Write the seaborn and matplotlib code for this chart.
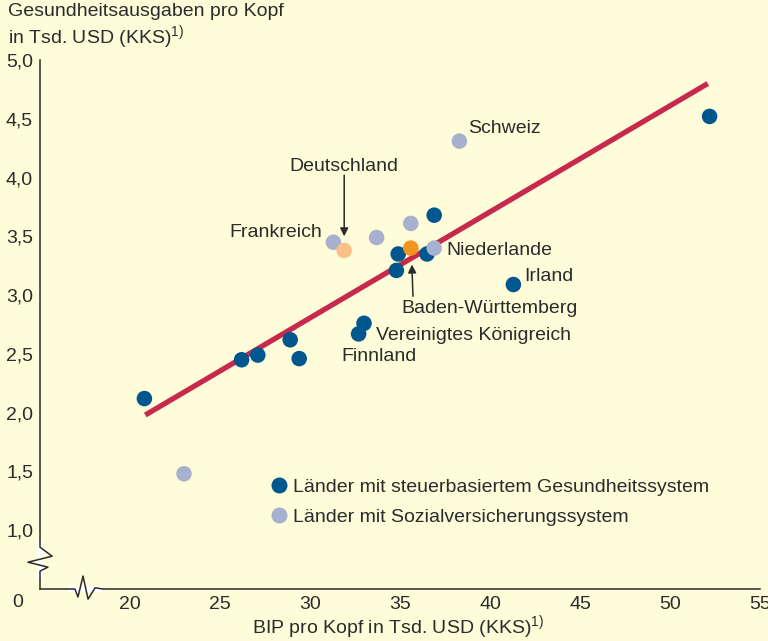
import numpy as np
import pandas as pd
import matplotlib
matplotlib.use("Agg")
import matplotlib.pyplot as plt
import seaborn as sns
from matplotlib.lines import Line2D

# ---- data ----
steuer_x = [20.8, 26.2, 27.1, 28.9, 29.4, 32.7, 33.0, 34.8, 34.9, 36.9, 36.5, 41.3, 52.2]
steuer_y = [2.12, 2.45, 2.49, 2.62, 2.46, 2.67, 2.76, 3.21, 3.35, 3.68, 3.35, 3.09, 4.52]
sozial_x = [23.0, 31.3, 33.7, 35.6, 36.9, 38.3]
sozial_y = [1.48, 3.45, 3.49, 3.61, 3.40, 4.31]
de_x, de_y = [31.9], [3.38]
bw_x, bw_y = [35.6], [3.40]
trend_x = [20.85, 52.1]
trend_y = [1.98, 4.80]

x_ticks = [20, 25, 30, 35, 40, 45, 50, 55]
y_ticks = [1.0, 1.5, 2.0, 2.5, 3.0, 3.5, 4.0, 4.5, 5.0]
y_ticklabels = ["1,0", "1,5", "2,0", "2,5", "3,0", "3,5", "4,0", "4,5", "5,0"]

group_labels = ["Länder mit steuerbasiertem Gesundheitssystem",
                "Länder mit Sozialversicherungssystem"]

df = pd.DataFrame({
    "x": steuer_x + sozial_x + de_x + bw_x,
    "y": steuer_y + sozial_y + de_y + bw_y,
    "g": ["steuer"] * len(steuer_x) + ["sozial"] * len(sozial_x) + ["de"] + ["bw"],
})

BG = "#fefcd9"
BLUE = "#00578e"
GREY = "#a8b0cf"
LORANGE = "#fbbf88"
ORANGE = "#f39322"
RED = "#c8284c"
INK = "#2b2b2b"
palette = {"steuer": BLUE, "sozial": GREY, "de": LORANGE, "bw": ORANGE}

sns.set_style("white")
plt.rcParams["font.family"] = ["Liberation Sans", "DejaVu Sans"]
plt.rcParams["mathtext.fontset"] = "custom"
plt.rcParams["mathtext.rm"] = "Liberation Sans"

FS = 14

fig = plt.figure(figsize=(7.68, 6.41), dpi=100, facecolor=BG)
ax = fig.add_axes([40 / 768, 1 - 589 / 641, 720 / 768, 529 / 641])
ax.set_facecolor(BG)

ax.plot(trend_x, trend_y, color=RED, lw=3.8, solid_capstyle="butt", zorder=2)
sns.scatterplot(data=df, x="x", y="y", hue="g", palette=palette, s=125,
                linewidth=0, legend=False, ax=ax, zorder=3)

ax.set_xlim(15, 55)
ax.set_ylim(0.5, 5.0)
ax.set_xticks(x_ticks)
ax.set_xticklabels([str(v) for v in x_ticks])
ax.set_yticks(y_ticks)
ax.set_yticklabels(y_ticklabels)
ax.set_xlabel("")
ax.set_ylabel("")
for s in ["top", "right"]:
    ax.spines[s].set_visible(False)
for s in ["left", "bottom"]:
    ax.spines[s].set_color(INK)
    ax.spines[s].set_linewidth(1.1)
ax.tick_params(direction="in", length=6, width=1.1, color=INK, labelsize=FS,
               labelcolor=INK, pad=5)

# axis break marks (decoration)
ax.plot([15, 15], [0.584, 0.907], color="white", lw=4, clip_on=False, zorder=4,
        solid_capstyle="butt")
ax.plot([15, 15, 15.67, 14.33, 15.44, 15, 15],
        [0.907, 0.856, 0.779, 0.728, 0.686, 0.652, 0.584],
        color=INK, lw=1.1, clip_on=False, zorder=5)
ax.plot([16.5, 18.5], [0.5, 0.5], color="white", lw=4, clip_on=False, zorder=4,
        solid_capstyle="butt")
ax.plot([16.5, 16.94, 17.11, 17.39, 17.67, 18.06, 18.5],
        [0.5, 0.5, 0.432, 0.61, 0.414, 0.51, 0.5],
        color=INK, lw=1.1, clip_on=False, zorder=5)
ax.text(-0.031, -0.026, "0", transform=ax.transAxes, ha="center", va="center",
        fontsize=FS, color=INK)

# axis titles
fig.text(8 / 768, 1 - 12 / 641, "Gesundheitsausgaben pro Kopf", ha="left",
         va="center", fontsize=FS, color=INK)
fig.text(8 / 768, 1 - 38 / 641, r"in Tsd. USD (KKS)$^{\mathrm{1)}}$", ha="left",
         va="center", fontsize=FS, color=INK)
fig.text(398 / 768, 1 - 628 / 641, r"BIP pro Kopf in Tsd. USD (KKS)$^{\mathrm{1)}}$",
         ha="center", va="center", fontsize=FS, color=INK)

# annotations
ax.text(38.78, 4.42, "Schweiz", ha="left", va="center", fontsize=FS, color=INK)
ax.text(30.67, 3.53, "Frankreich", ha="right", va="center", fontsize=FS, color=INK)
ax.text(37.6, 3.38, "Niederlande", ha="left", va="center", fontsize=FS, color=INK)
ax.text(41.9, 3.16, "Irland", ha="left", va="center", fontsize=FS, color=INK)
ax.text(33.67, 2.66, "Vereinigtes Königreich", ha="left", va="center", fontsize=FS, color=INK)
ax.text(31.72, 2.48, "Finnland", ha="left", va="center", fontsize=FS, color=INK)
ax.text(de_x[0], 4.09, "Deutschland", ha="center", va="center", fontsize=FS, color=INK)
ax.text(35.1, 2.89, "Baden-Württemberg", ha="left", va="center", fontsize=FS, color=INK)
arrow = dict(arrowstyle="-|>", color=INK, lw=1.1, mutation_scale=12,
             shrinkA=0, shrinkB=0)
ax.annotate("", xy=(de_x[0], 3.50), xytext=(de_x[0], 4.02), arrowprops=arrow)
ax.annotate("", xy=(35.66, 3.26), xytext=(35.72, 2.99), arrowprops=arrow)

# legend
handles = [Line2D([], [], ls="", marker="o", markersize=11.5, markerfacecolor=c,
                  markeredgewidth=0) for c in (BLUE, GREY)]
leg = ax.legend(handles, group_labels, loc="upper left",
                bbox_to_anchor=(271 / 768, 1 - 478 / 641), bbox_transform=fig.transFigure,
                frameon=False, fontsize=FS, handlelength=0.8, handletextpad=0.32,
                labelspacing=0.65, borderpad=0, borderaxespad=0, labelcolor=INK)

fig.savefig("out.png", dpi=100, facecolor=BG)
